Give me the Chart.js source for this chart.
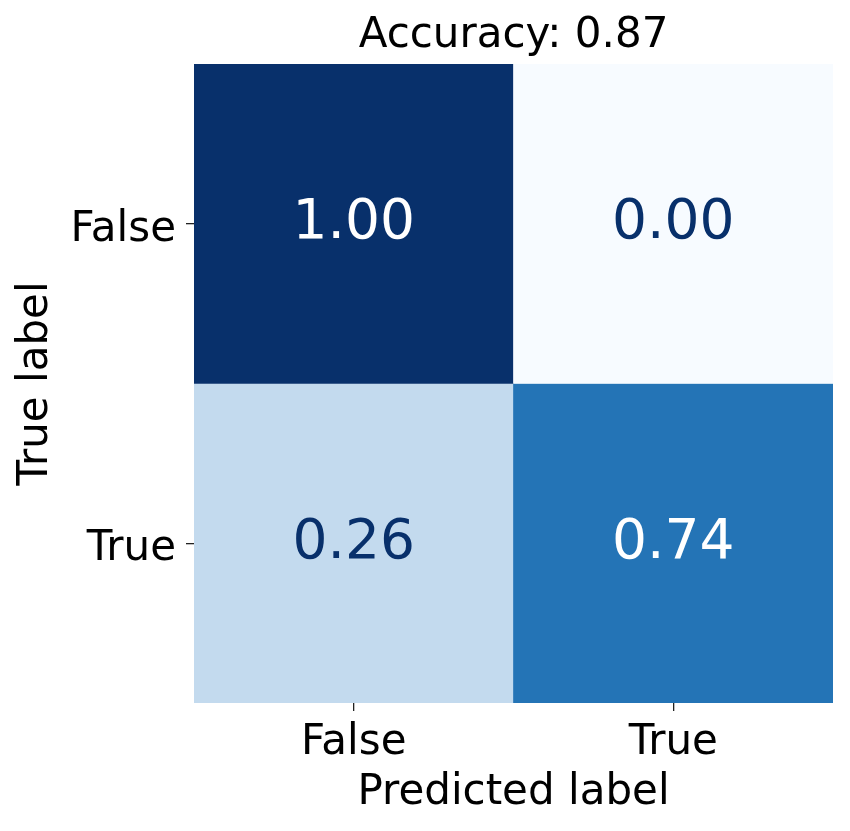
<!DOCTYPE html>
<html>
<head>
<meta charset="utf-8">
<script src="https://cdn.jsdelivr.net/npm/chart.js@4"></script>
<style>
  html, body { margin: 0; padding: 0; background: #fff; }
  #wrap { width: 850px; height: 831px; }
</style>
</head>
<body>
<div id="wrap"><canvas id="cm"></canvas></div>
<script>
// confusion matrix data (normalized by row)
const predLabels = ['False', 'True'];
const trueLabels = ['False', 'True'];
const rowFalse = [1.00, 0.00];
const rowTrue = [0.26, 0.74];
const matrix = [rowFalse, rowTrue];
const titleText = 'Accuracy: 0.87';

// matplotlib "Blues" colormap stops
const blues = ['#f7fbff','#deebf7','#c6dbef','#9ecae1','#6baed6','#4292c6','#2171b5','#08519c','#08306b'];
function hex(c) { return [1,3,5].map(i => parseInt(c.substr(i, 2), 16)); }
function bluesColor(v) {
  const t = Math.max(0, Math.min(1, v)) * (blues.length - 1);
  const i = Math.min(Math.floor(t), blues.length - 2);
  const f = t - i;
  const a = hex(blues[i]), b = hex(blues[i + 1]);
  const c = a.map((x, k) => Math.round(x + (b[k] - x) * f));
  return 'rgb(' + c.join(',') + ')';
}

const FONT = 'DejaVu Sans';

const datasets = matrix.map((row, r) => ({
  label: trueLabels[r],
  data: row.map(() => [r, r + 1]),
  values: row,
  backgroundColor: row.map(v => bluesColor(v)),
  borderWidth: 0,
  borderSkipped: false,
  barPercentage: 1,
  categoryPercentage: 1,
  grouped: false
}));

// draws value text in the middle of each cell
const cellText = {
  id: 'cellText',
  afterDatasetsDraw(chart) {
    const ctx = chart.ctx;
    ctx.save();
    ctx.font = '55px "' + FONT + '"';
    ctx.textAlign = 'center';
    ctx.textBaseline = 'middle';
    chart.data.datasets.forEach((ds, i) => {
      chart.getDatasetMeta(i).data.forEach((el, j) => {
        const v = ds.values[j];
        ctx.fillStyle = v > 0.5 ? '#ffffff' : '#08306b';
        ctx.fillText(v.toFixed(2), el.x, (el.y + el.base) / 2);
      });
    });
    ctx.restore();
  }
};

new Chart(document.getElementById('cm'), {
  type: 'bar',
  data: { labels: predLabels, datasets: datasets },
  plugins: [cellText],
  options: {
    responsive: true,
    maintainAspectRatio: false,
    animation: false,
    layout: { padding: { left: 0, right: 17, top: 0, bottom: 0 } },
    plugins: {
      legend: { display: false },
      tooltip: { enabled: false },
      title: {
        display: true,
        fullSize: false,
        text: titleText,
        color: '#000',
        font: { family: FONT, size: 42, weight: 'normal' },
        padding: { top: 11, bottom: 2.6 }
      }
    },
    scales: {
      x: {
        type: 'category',
        offset: true,
        grid: { offset: false, drawOnChartArea: false, drawTicks: true, tickLength: 8, color: '#222', lineWidth: 1.3 },
        border: { display: false },
        ticks: { color: '#000', font: { family: FONT, size: 42 }, padding: 7, maxRotation: 0 },
        title: { display: true, text: 'Predicted label', color: '#000', font: { family: FONT, size: 42 }, padding: { top: 0, bottom: 13 } },
        afterFit(scale) { scale.height = 128; }
      },
      y: {
        type: 'linear',
        min: 0,
        max: 2,
        reverse: true,
        afterBuildTicks(scale) { scale.ticks = trueLabels.map((_, i) => ({ value: i + 0.5 })); },
        grid: { drawOnChartArea: false, drawTicks: true, tickLength: 8, color: '#222', lineWidth: 1.3 },
        border: { display: false },
        ticks: {
          color: '#000',
          font: { family: FONT, size: 42 },
          padding: 10,
          labelOffset: 6,
          callback: (v, i) => trueLabels[i]
        },
        title: { display: true, text: 'True label', color: '#000', font: { family: FONT, size: 42 }, padding: { top: 11, bottom: 0 } },
        afterFit(scale) { scale.width = 194; }
      }
    }
  }
});
</script>
</body>
</html>
